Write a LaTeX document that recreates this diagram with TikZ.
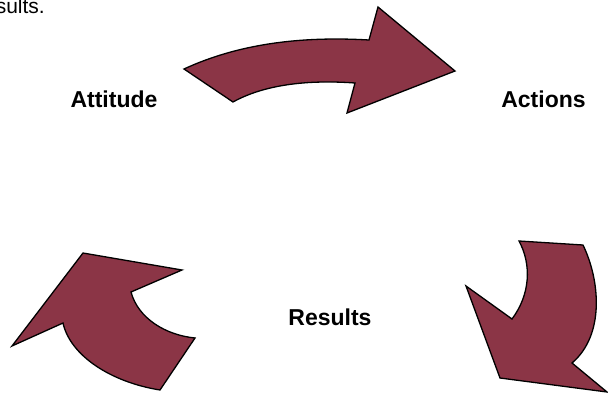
\documentclass[tikz,border=0pt]{standalone}
\usepackage{fontspec}
\setmainfont{Liberation Sans}
\definecolor{maroon}{RGB}{139,53,70}
\begin{document}
\begin{tikzpicture}[x=1pt,y=-1pt,
  arrowshape/.style={fill=maroon,draw=black,line width=1.3pt,line join=miter},
  lbl/.style={font=\fontsize{23}{27}\selectfont\bfseries,anchor=base,inner sep=0pt}]
\useasboundingbox (0,0) rectangle (608,393);
% top arrow
\draw[arrowshape] (184,69) .. controls (238,44) and (300,36) .. (369,40)
  -- (378,7) -- (455,71) -- (347,113) -- (355,83)
  .. controls (300,79) and (260,87) .. (233,102) -- cycle;
% bottom-left arrow
\draw[arrowshape] (83,253) -- (182,270) -- (131,292)
  .. controls (138,318) and (165,335) .. (195,338)
  -- (160,390) .. controls (110,382) and (70,355) .. (63,323)
  -- (12,346) -- cycle;
% bottom-right arrow
\draw[arrowshape] (519,241) -- (583,245)
  .. controls (600,280) and (605,335) .. (572,363)
  -- (607,392) -- (500,378) -- (466,286) -- (512,319)
  .. controls (530,295) and (532,265) .. cycle;
\node[lbl] (attitude) at (114,108) {Attitude};
\node[lbl] (actions) at (543.5,108) {Actions};
\node[lbl] (results) at (330,325) {Results};
\node[font=\fontsize{21}{25}\selectfont,anchor=base east,inner sep=0pt] (top) at (45,13.5) {sults.};
\end{tikzpicture}
\end{document}
